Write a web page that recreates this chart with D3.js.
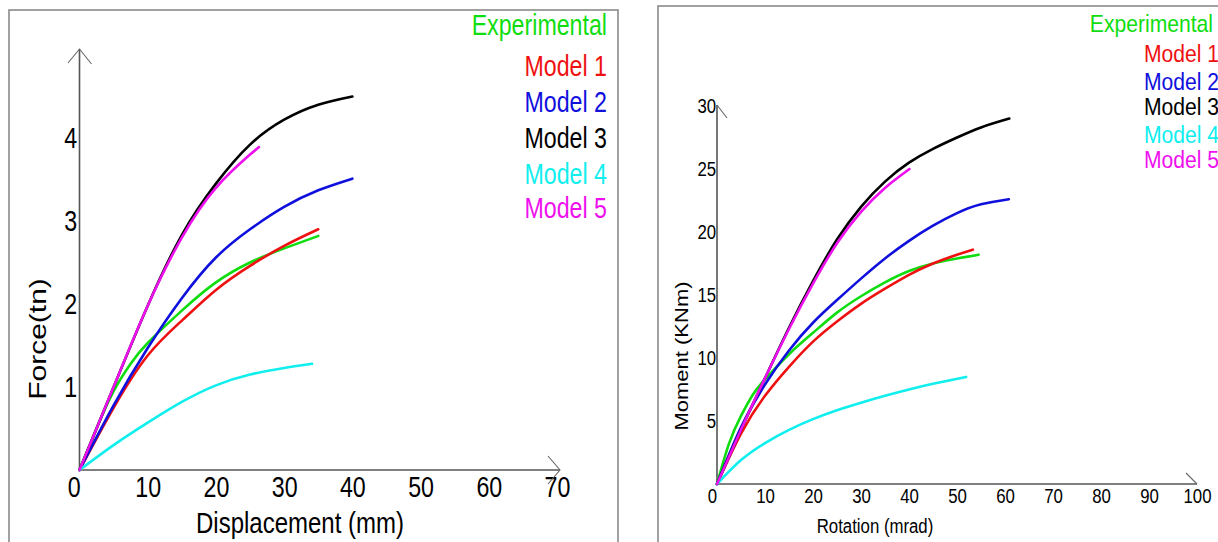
<!DOCTYPE html>
<html>
<head>
<meta charset="utf-8">
<script src="https://cdn.jsdelivr.net/npm/d3@7"></script>
<style>
  body { margin: 0; background: #fff; }
  svg text { font-family: "Liberation Sans", Arial, sans-serif; }
</style>
</head>
<body>
<svg id="chart" width="1218" height="542"></svg>
<script>
// series names + colours (shared by both panels)
const seriesNames = ['Experimental', 'Model 1', 'Model 2', 'Model 3', 'Model 4', 'Model 5'];
const seriesColors = ['#10dd10', '#ee1111', '#1010dd', '#000000', '#10eeee', '#ee10ee'];

// left panel: force (tn) vs displacement (mm)
const forceExperimental = [[0, 0], [2.5, 0.5], [5, 0.95], [7.5, 1.28], [10, 1.53], [15, 1.92], [20, 2.26], [25, 2.5], [30, 2.67], [35, 2.82]];
const forceModel1 = [[0, 0], [5, 0.75], [10, 1.38], [15, 1.8], [20, 2.17], [25, 2.46], [30, 2.7], [35, 2.9]];
const forceModel2 = [[0, 0], [5, 0.78], [10, 1.47], [15, 2.07], [20, 2.56], [25, 2.9], [30, 3.17], [35, 3.37], [40, 3.51]];
const forceModel3 = [[0, 0], [5, 1.0], [10, 1.98], [15, 2.83], [20, 3.45], [25, 3.92], [30, 4.22], [35, 4.4], [40, 4.5]];
const forceModel4 = [[0, 0], [5, 0.3], [10, 0.57], [15, 0.82], [20, 1.02], [25, 1.15], [30, 1.23], [34.1, 1.28]];
const forceModel5 = [[0, 0], [5, 1.0], [10, 1.98], [15, 2.8], [20, 3.4], [25, 3.8], [26.3, 3.89]];
const forceXTicks = [0, 10, 20, 30, 40, 50, 60, 70];
const forceYTicks = [1, 2, 3, 4];

// right panel: moment (KNm) vs rotation (mrad)
const momentExperimental = [[0, 0], [2.5, 3.2], [5, 5.4], [7.5, 7.1], [10, 8.3], [15, 10.3], [20, 12.0], [25, 13.6], [30, 14.9], [35, 16.0], [40, 16.9], [45, 17.5], [50, 17.9], [54.5, 18.2]];
const momentModel1 = [[0, 0], [5, 4.0], [10, 7.0], [15, 9.3], [20, 11.3], [25, 12.9], [30, 14.3], [35, 15.5], [40, 16.6], [45, 17.5], [50, 18.2], [53.3, 18.6]];
const momentModel2 = [[0, 0], [5, 4.5], [10, 7.9], [15, 10.6], [20, 12.8], [25, 14.6], [30, 16.3], [35, 17.9], [40, 19.3], [45, 20.5], [50, 21.5], [55, 22.2], [60.8, 22.6]];
const momentModel3 = [[0, 0], [5, 4.3], [10, 8.4], [15, 12.4], [20, 16.1], [25, 19.4], [30, 22.0], [35, 24.0], [40, 25.5], [45, 26.6], [50, 27.5], [55, 28.3], [60.9, 29.0]];
const momentModel4 = [[0, 0], [5, 1.9], [10, 3.25], [15, 4.3], [20, 5.15], [25, 5.85], [30, 6.45], [35, 7.0], [40, 7.5], [45, 7.95], [51.9, 8.5]];
const momentModel5 = [[0, 0], [5, 4.3], [10, 8.4], [15, 12.3], [20, 15.9], [25, 19.1], [30, 21.6], [35, 23.5], [40.1, 25.0]];
const momentXTicks = [0, 10, 20, 30, 40, 50, 60, 70, 80, 90, 100];
const momentYTicks = [5, 10, 15, 20, 25, 30];

const svg = d3.select('#chart');

function drawPanel(cfg, series) {
    const g = svg.append('g');

    g.append('rect')
        .attr('x', cfg.box[0]).attr('y', cfg.box[1])
        .attr('width', cfg.box[2]).attr('height', cfg.box[3])
        .attr('fill', 'none').attr('stroke', '#8a8a8a').attr('stroke-width', 1.6);

    const x = d3.scaleLinear().domain(cfg.xDomain).range(cfg.xRange);
    const y = d3.scaleLinear().domain(cfg.yDomain).range(cfg.yRange);

    // axes (labels only, lines drawn below with arrows)
    const xAxis = g.append('g')
        .attr('transform', `translate(0,${y(0)})`)
        .call(d3.axisBottom(x).tickValues(cfg.xTicks).tickSize(0).tickPadding(cfg.xPad).tickFormat(d3.format('d')));
    const yAxis = g.append('g')
        .attr('transform', `translate(${x(0)},0)`)
        .call(d3.axisLeft(y).tickValues(cfg.yTicks).tickSize(0).tickPadding(cfg.yPad).tickFormat(d3.format('d')));

    [xAxis, yAxis].forEach((a) => {
        a.select('.domain').remove();
        a.selectAll('text')
            .attr('font-size', cfg.tickSize)
            .attr('font-family', '"Liberation Sans", Arial, sans-serif')
            .attr('fill', '#000')
            .attr('transform', `scale(${cfg.squeeze},1)`);
    });
    xAxis.selectAll('text').filter((d) => d === 0).attr('dx', cfg.zeroShift);

    // axis lines + arrow heads
    const x0 = x(0);
    const y0 = y(0);
    g.append('path')
        .attr('d', `M${x0},${y0}V${cfg.yTip}M${x0},${y0}H${cfg.xTip}`)
        .attr('stroke', '#555').attr('stroke-width', 1.6).attr('fill', 'none');
    g.append('path')
        .attr('d', cfg.yArrow(x0, cfg.yTip) + cfg.xArrow(cfg.xTip, y0))
        .attr('stroke', '#666').attr('stroke-width', 1.1).attr('fill', 'none');

    const line = d3.line()
        .x((d) => x(d[0]))
        .y((d) => y(d[1]))
        .curve(d3.curveNatural);

    g.selectAll('path.curve')
        .data(series)
        .enter()
        .append('path')
        .attr('class', 'curve')
        .attr('d', (d) => line(d))
        .attr('fill', 'none')
        .attr('stroke', (d, i) => seriesColors[i])
        .attr('stroke-width', 2.6)
        .attr('stroke-linecap', 'round');

    // axis titles
    g.append('text')
        .attr('transform', `translate(${cfg.xTitle[0]},${cfg.xTitle[1]}) scale(${cfg.squeeze},1)`)
        .attr('text-anchor', 'middle')
        .attr('font-size', cfg.titleSize)
        .text(cfg.xLabel);
    g.append('text')
        .attr('transform', `translate(${cfg.yTitle[0]},${cfg.yTitle[1]}) scale(${cfg.yTitleSqueeze},1) rotate(-90)`)
        .attr('text-anchor', 'middle')
        .attr('font-size', cfg.yTitleSize)
        .text(cfg.yLabel);

    // legend, right aligned text
    g.selectAll('text.legend')
        .data(seriesNames)
        .enter()
        .append('text')
        .attr('class', 'legend')
        .attr('transform', (d, i) => `translate(${i === 0 ? cfg.legendX[0] : cfg.legendX[1]},${cfg.legendY[i]}) scale(${cfg.legendSqueeze},1)`)
        .attr('text-anchor', 'end')
        .attr('font-size', cfg.legendSize)
        .attr('fill', (d, i) => seriesColors[i])
        .text((d) => d);
}

drawPanel({
    box: [9, 10, 609, 560],
    xDomain: [0, 70], xRange: [79.5, 557],
    yDomain: [0, 4], yRange: [470, 138],
    xTicks: forceXTicks, yTicks: forceYTicks,
    squeeze: 0.8,
    xPad: 6.5, yPad: 3, tickSize: 29, zeroShift: '-0.25em',
    yTip: 49, xTip: 560,
    yArrow: (px, py) => `M${px - 11.5},${py + 14}L${px},${py}L${px + 12},${py + 15}`,
    xArrow: (px, py) => `M${px - 12},${py - 14}L${px},${py}L${px - 12},${py + 14}`,
    xLabel: 'Displacement (mm)', xTitle: [300, 533], titleSize: 30,
    yLabel: 'Force(tn)', yTitle: [46, 339], yTitleSize: 30, yTitleSqueeze: 0.8,
    legendX: [607, 607], legendY: [35, 76, 112, 148, 184, 218], legendSize: 29, legendSqueeze: 0.8,
}, [forceExperimental, forceModel1, forceModel2, forceModel3, forceModel4, forceModel5]);

drawPanel({
    box: [658, 6, 600, 560],
    xDomain: [0, 100], xRange: [717, 1197],
    yDomain: [0, 30], yRange: [484, 106],
    xTicks: momentXTicks, yTicks: momentYTicks,
    squeeze: 0.8,
    xPad: 4.5, yPad: 1, tickSize: 21, zeroShift: '-0.3em',
    yTip: 105, xTip: 1197,
    yArrow: (px, py) => `M${px},${py}L${px + 10},${py + 13}`,
    xArrow: (px, py) => `M${px - 11},${py - 11}L${px},${py}`,
    xLabel: 'Rotation (mrad)', xTitle: [875, 533], titleSize: 21,
    yLabel: 'Moment (KNm)', yTitle: [688, 356], yTitleSize: 22, yTitleSqueeze: 0.85,
    legendX: [1213, 1219], legendY: [32, 62, 90, 115, 143, 168], legendSize: 24, legendSqueeze: 0.88,
}, [momentExperimental, momentModel1, momentModel2, momentModel3, momentModel4, momentModel5]);
</script>
</body>
</html>
